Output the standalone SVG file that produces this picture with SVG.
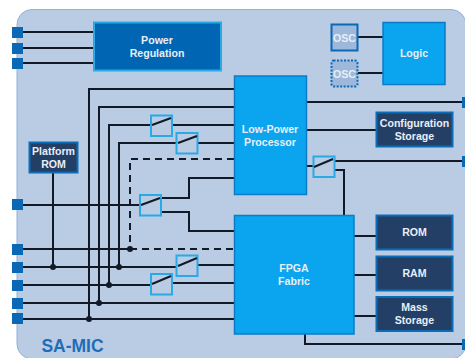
<svg xmlns="http://www.w3.org/2000/svg" width="465" height="358" viewBox="0 0 465 358">
<style>
text{font-family:"Liberation Sans",Arial,sans-serif;font-weight:700;font-size:10.6px;fill:#e8eef6;text-anchor:middle}
.w{stroke:#111a26;stroke-width:2;fill:none}
.d{stroke:#111a26;stroke-width:2;fill:none;stroke-dasharray:7 5}
.pin{fill:#0a68b4}
.sw{fill:#b9cce4;stroke:#29a9e6;stroke-width:2}
.lv{stroke:#111a26;stroke-width:2}
.cpu{fill:#0aa5ee;stroke:#0a7cc8;stroke-width:1.5}
.dk{fill:#243f66;stroke:#0b6cb8;stroke-width:2}
</style>
<rect x="17" y="9.500" width="449" height="349.500" rx="15" fill="#b9cce4" stroke="#8fb2da" stroke-width="1"/>
<g id="connectors">
<path class="w" d="M23 32H93M23 48H93M23 63H93"/>
<path class="w" d="M53 173V267"/>
<path class="w" d="M234 89H89V319M234 107H99V303M151 125H109V285M172 125H234M177 143H119V267M197 143H234"/>
<path class="d" d="M234 159H130V249M130 249H234"/>
<path class="w" d="M23 205H140M161 198H189V178H234M161 212H189V231H234"/>
<path class="w" d="M23 249H130M23 267H177M197 265H234M23 285H151M172 283H234M23 303H234M23 319H234"/>
<path class="w" d="M306 102H462M306 130H376M306 166H313M335 161H462M335 170H344V215"/>
<path class="w" d="M358 37H383M358 73H383M354 236H376M354 275H376M354 316H376M305 334V344H462"/>
<g fill="#111a26"><circle cx="53" cy="267" r="3"/><circle cx="89" cy="319" r="3"/><circle cx="99" cy="303" r="3"/><circle cx="109" cy="285" r="3"/><circle cx="119" cy="267" r="3"/><circle cx="130" cy="249" r="3"/></g>
</g>
<g id="pins">
<rect class="pin" x="12" y="27" width="11" height="11"/><rect class="pin" x="12" y="43" width="11" height="11"/><rect class="pin" x="12" y="58" width="11" height="11"/>
<rect class="pin" x="12" y="199" width="11" height="11"/><rect class="pin" x="12" y="244" width="11" height="11"/><rect class="pin" x="12" y="262" width="11" height="11"/><rect class="pin" x="12" y="280" width="11" height="11"/><rect class="pin" x="12" y="298" width="11" height="11"/><rect class="pin" x="12" y="313" width="11" height="11"/>
<rect class="pin" x="462" y="97" width="3" height="11"/><rect class="pin" x="462" y="156" width="3" height="11"/><rect class="pin" x="462" y="339" width="3" height="11"/>
</g>
<g id="power-regulation"><rect x="94" y="22.500" width="127" height="48" fill="#0066b3" stroke="#29a9e6" stroke-width="2"/><text x="157" y="44">Power</text><text x="157" y="57">Regulation</text></g>
<g id="platform-rom"><rect x="29.500" y="142.500" width="48" height="30" class="dk"/><text x="53.500" y="155">Platform</text><text x="53.500" y="168">ROM</text></g>
<g id="low-power-processor"><rect x="234.500" y="76" width="72" height="118.500" class="cpu"/><text x="270" y="133">Low-Power</text><text x="270" y="146">Processor</text></g>
<g id="fpga-fabric"><rect x="234.500" y="215.500" width="119.500" height="118.500" class="cpu"/><text x="294" y="272">FPGA</text><text x="294" y="285">Fabric</text></g>
<g id="osc-1"><rect x="331.500" y="24.500" width="26" height="26" fill="#9db8da" stroke="#0a68b4" stroke-width="2"/><text x="344.500" y="42">OSC</text></g>
<g id="osc-2"><rect x="331.500" y="60.500" width="26" height="26" rx="2" fill="#9db8da" stroke="#0a68b4" stroke-width="2" stroke-dasharray="2 1.500"/><text x="344.500" y="78">OSC</text></g>
<g id="logic"><rect x="383" y="22.500" width="62" height="62" class="cpu"/><text x="414" y="57">Logic</text></g>
<g id="configuration-storage"><rect x="376.500" y="112.500" width="76" height="34" class="dk"/><text x="414.500" y="127">Configuration</text><text x="414.500" y="140">Storage</text></g>
<g id="rom"><rect x="376.500" y="215.500" width="76" height="34" class="dk"/><text x="414.500" y="236">ROM</text></g>
<g id="ram"><rect x="376.500" y="256.500" width="76" height="34" class="dk"/><text x="414.500" y="277">RAM</text></g>
<g id="mass-storage"><rect x="376.500" y="297" width="76" height="34" class="dk"/><text x="414.500" y="311">Mass</text><text x="414.500" y="324">Storage</text></g>
<g id="switches">
<rect class="sw" x="151" y="115.500" width="21" height="20.500"/><path class="lv" d="M152 125L171 118"/>
<rect class="sw" x="176.500" y="133" width="21" height="20.500"/><path class="lv" d="M178 143L197 136"/>
<rect class="sw" x="140" y="195" width="21" height="20.500"/><path class="lv" d="M141 205L160 198"/>
<rect class="sw" x="176.500" y="255.500" width="21" height="20.500"/><path class="lv" d="M178 266L197 258"/>
<rect class="sw" x="151" y="274" width="21" height="20.500"/><path class="lv" d="M152 284L171 276"/>
<rect class="sw" x="313.500" y="156.500" width="21" height="20.500"/><path class="lv" d="M314 167L333 159"/>
</g>
<text x="72.500" y="352" style="font-size:17.500px;fill:#1f6db8">SA-MIC</text>
</svg>
